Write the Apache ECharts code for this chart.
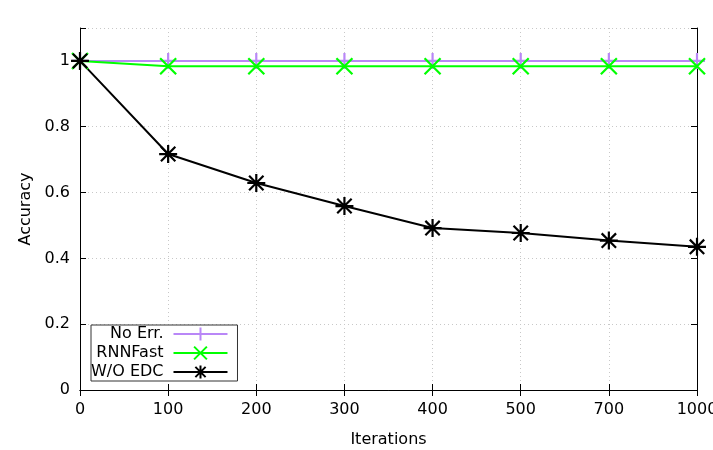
<!DOCTYPE html>
<html>
<head>
<meta charset="utf-8">
<script src="https://cdn.jsdelivr.net/npm/echarts@6/dist/echarts.min.js"></script>
<style>
  html, body { margin: 0; padding: 0; background: #fff; }
  #chart { width: 713px; height: 450px; }
</style>
</head>
<body>
<div id="chart"></div>
<script>
// data
var iterations = ["0", "100", "200", "300", "400", "500", "700", "1000"];
var noErr = [1, 1, 1, 1, 1, 1, 1, 1];
var rnnFast = [1, 0.984, 0.984, 0.984, 0.984, 0.984, 0.984, 0.984];
var woEdc = [1, 0.717, 0.629, 0.559, 0.492, 0.477, 0.454, 0.435];

var FONT = "DejaVu Sans";
var plusPath = "path://M5,0L5,10M0,5L10,5";
var crossPath = "path://M0,0L10,10M10,0L0,10";
var starPath = "path://M5,0L5,10M0,5L10,5M1,1L9,9M9,1L1,9";

function mkSeries(name, data, color, symbol, size) {
  return {
    name: name,
    type: "line",
    data: data,
    symbol: symbol,
    symbolSize: size,
    showAllSymbol: true,
    animation: false,
    lineStyle: { color: color, width: 2 },
    itemStyle: { color: color, borderColor: color, borderWidth: 2.2 }
  };
}

var chart = echarts.init(document.getElementById("chart"));
var gridLine = { show: true, lineStyle: { color: "#c8c8c8", type: [1, 3], width: 1 } };
chart.setOption({
  backgroundColor: "#fff",
  textStyle: { fontFamily: FONT },
  grid: { left: 80, right: 16, top: 28, bottom: 60, outerBoundsMode: "none", containLabel: false },
  legend: {
    orient: "vertical",
    left: 91,
    top: 325,
    align: "right",
    itemWidth: 54,
    itemHeight: 16,
    itemGap: 3,
    padding: [1, 9, 1, 0],
    borderColor: "#333",
    borderWidth: 1,
    backgroundColor: "#fff",
    textStyle: { fontFamily: FONT, fontSize: 16, color: "#000", width: 78, align: "right", padding: [0, 5, 0, 0] },
    data: ["No Err.", "RNNFast", "W/O EDC"]
  },
  xAxis: [{
    type: "category",
    data: iterations,
    boundaryGap: false,
    name: "Iterations",
    nameLocation: "middle",
    nameGap: 42,
    nameTextStyle: { fontFamily: FONT, fontSize: 16, color: "#000" },
    axisLine: { lineStyle: { color: "#000", width: 1 } },
    axisTick: { inside: true, length: 6, alignWithLabel: true, lineStyle: { color: "#000" } },
    axisLabel: { fontFamily: FONT, fontSize: 16, color: "#000", margin: 12, hideOverlap: false },
    splitLine: gridLine
  }, {
    type: "category",
    data: iterations,
    boundaryGap: false,
    position: "top",
    axisLine: { lineStyle: { color: "#000", width: 1 } },
    axisTick: { inside: true, length: 6, lineStyle: { color: "#000" } },
    axisLabel: { show: false },
    splitLine: { show: false }
  }],
  yAxis: [{
    type: "value",
    min: 0,
    max: 1.1,
    interval: 0.2,
    name: "Accuracy",
    nameLocation: "middle",
    nameGap: 37,
    nameTextStyle: { fontFamily: FONT, fontSize: 16, color: "#000" },
    axisLine: { show: true, lineStyle: { color: "#000", width: 1 } },
    axisTick: { show: true, inside: true, length: 6, lineStyle: { color: "#000" } },
    axisLabel: {
      fontFamily: FONT, fontSize: 16, color: "#000", margin: 10,
      formatter: function (v) { return v > 1.05 ? "" : String(+v.toFixed(1)); }
    },
    splitLine: gridLine
  }, {
    type: "value",
    min: 0,
    max: 1.1,
    interval: 0.2,
    position: "right",
    axisLine: { show: true, lineStyle: { color: "#000", width: 1 } },
    axisTick: { show: true, inside: true, length: 6, lineStyle: { color: "#000" } },
    axisLabel: { show: false },
    splitLine: { show: false }
  }],
  series: [
    mkSeries("No Err.", noErr, "#b987f7", plusPath, 16),
    mkSeries("RNNFast", rnnFast, "#00ff00", crossPath, 16),
    mkSeries("W/O EDC", woEdc, "#000000", starPath, 18)
  ]
});
</script>
</body>
</html>
